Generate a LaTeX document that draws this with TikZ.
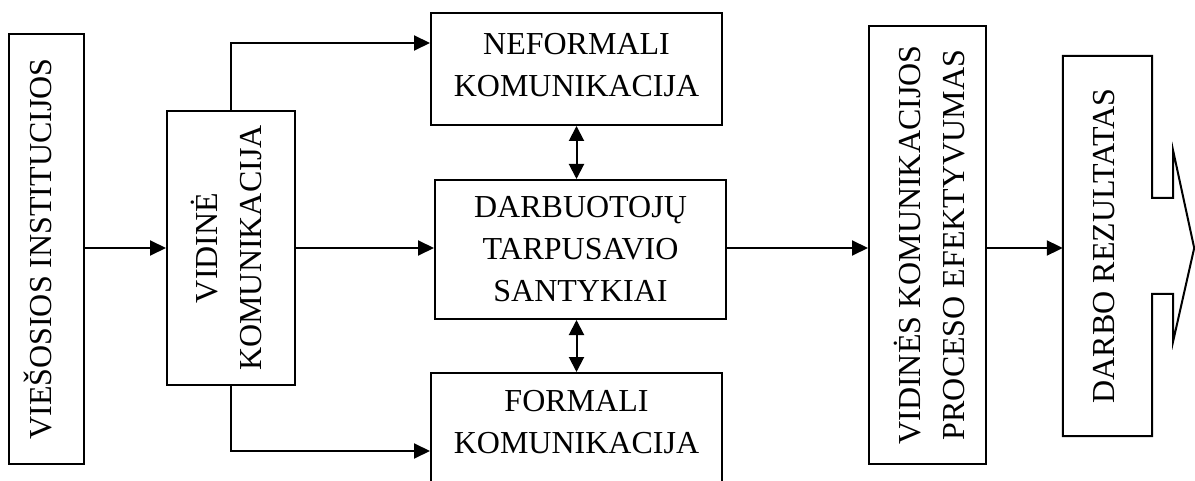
\documentclass[tikz,border=0pt]{standalone}
\usepackage{fontspec}
\setmainfont{Liberation Serif}
\usetikzlibrary{arrows.meta}
% vertical (rotated) multi-line label, optionally nudged across its lines
\newcommand{\vtext}[2][0pt]{\rotatebox{90}{\raisebox{#1}[\height][\depth]{\fontsize{32}{44}\selectfont\begin{tabular}{@{}c@{}}#2\end{tabular}}}}
\begin{document}
\begin{tikzpicture}[x=1pt,y=-1pt,
  every node/.style={font=\fontsize{32}{42}\selectfont},
  box/.style={draw, line width=2pt, inner sep=0pt, align=center},
  tip/.style={Triangle[length=16pt,width=15pt]},
  arr/.style={line width=2pt, -{Triangle[length=16pt,width=15pt]}},
  dbl/.style={line width=2pt, {Triangle[length=15pt,width=15pt]}-{Triangle[length=15pt,width=15pt]}}]
\useasboundingbox (0,0) rectangle (1195,481);

% boxes
\node[box, minimum width=75pt, minimum height=430pt] (vi) at (46.5,249) {\vtext[4pt]{VIEŠOSIOS INSTITUCIJOS}};
\node[box, minimum width=128pt, minimum height=274pt] (vk) at (231,248) {\vtext{VIDINĖ\\KOMUNIKACIJA}};
\node[box, minimum width=291pt, minimum height=112pt, text depth=7.5pt] (nef) at (576.5,69) {NEFORMALI\\KOMUNIKACIJA};
\node[box, minimum width=291pt, minimum height=139pt] (dar) at (580.5,249.5) {DARBUOTOJŲ\\TARPUSAVIO\\SANTYKIAI};
\node[box, minimum width=291pt, minimum height=114pt, text depth=15.5pt] (for) at (576.5,430) {FORMALI\\KOMUNIKACIJA};
\node[box, minimum width=117pt, minimum height=438pt] (vkp) at (927.5,245) {\vtext[-6pt]{VIDINĖS KOMUNIKACIJOS\\PROCESO EFEKTYVUMAS}};
\node[inner sep=0pt, minimum width=89pt, minimum height=380pt] (dr) at (1107.5,246) {\vtext[2pt]{DARBO REZULTATAS}};

% outline of the result box with its arrow-shaped right side
\draw[line width=2pt] (dr.south west) -- (dr.north west) -- (dr.north east)
  -- ([shift={(0,-48)}]dr.east) -- ([shift={(21,-48)}]dr.east)
  -- ([shift={(21,-95)}]dr.east) -- ([shift={(42,2)}]dr.east)
  -- ([shift={(21,95)}]dr.east) -- ([shift={(21,48)}]dr.east)
  -- ([shift={(0,48)}]dr.east) -- (dr.south east) -- cycle;

% connectors
\draw[arr] (vi.east |- vk.west) -- (vk.west);
\draw[arr] (vk.north) |- ([yshift=26pt]nef.west);
\draw[arr] (vk.south) |- ([yshift=-21pt]for.west);
\draw[arr] (vk.east) -- (vk.east -| dar.west);
\draw[dbl] (nef.south) -- (nef.south |- dar.north);
\draw[dbl] (nef.south |- dar.south) -- (nef.south |- for.north);
\draw[arr] (dar.east |- vk.east) -- (vk.east -| vkp.west);
\draw[arr] (vkp.east |- vk.east) -- (vk.east -| dr.west);
\end{tikzpicture}
\end{document}
